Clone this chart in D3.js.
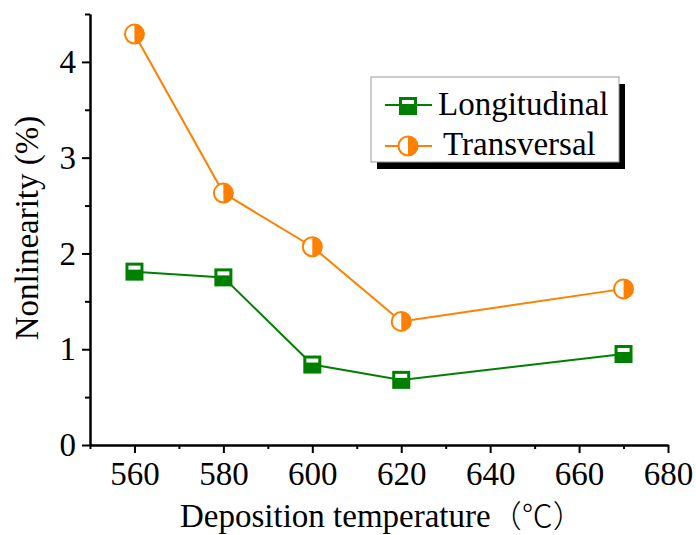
<!DOCTYPE html>
<html>
<head>
<meta charset="utf-8">
<script src="https://cdn.jsdelivr.net/npm/d3@7"></script>
<style>
  body { margin: 0; background: #fff; }
  svg { font-family: "Liberation Serif", "Times New Roman", serif; }
</style>
</head>
<body>
<svg width="696" height="535"></svg>
<script>
"use strict";
// data
var temps = [560, 580, 600, 620, 670];
var longitudinal = [1.81, 1.75, 0.84, 0.68, 0.95];
var transversal = [4.29, 2.63, 2.07, 1.29, 1.63];
var xMajor = [560, 580, 600, 620, 640, 660, 680];
var xMinor = [550, 570, 590, 610, 630, 650, 670];
var yMajor = [0, 1, 2, 3, 4];
var yMinor = [0.5, 1.5, 2.5, 3.5, 4.5];

var green = '#008000', orange = '#ff8000';
var serif = '"Liberation Serif", "Times New Roman", serif';

var svg = d3.select("svg");
var x = d3.scaleLinear().domain([550, 680]).range([90, 668]);
var y = d3.scaleLinear().domain([0, 4.5]).range([445, 14]);

function styleAxis(g) {
  g.attr('font-family', serif).attr('font-size', 33);
  g.selectAll('path, line').attr('stroke', '#000').attr('stroke-width', 2);
  g.selectAll('text').attr('fill', '#000');
}

// x axis
svg.append('g').attr('transform', 'translate(0,' + y(0) + ')')
  .call(d3.axisBottom(x).tickValues(xMinor).tickSize(4).tickSizeOuter(0).tickFormat(''))
  .call(styleAxis);
svg.append('g').attr('transform', 'translate(0,' + y(0) + ')')
  .call(d3.axisBottom(x).tickValues(xMajor).tickSize(8).tickSizeOuter(0).tickPadding(9).tickFormat(d3.format('d')))
  .call(styleAxis);

// y axis
svg.append('g').attr('transform', 'translate(' + x(550) + ',0)')
  .call(d3.axisLeft(y).tickValues(yMinor).tickSize(5).tickSizeOuter(0).tickFormat(''))
  .call(styleAxis);
svg.append('g').attr('transform', 'translate(' + x(550) + ',0)')
  .call(d3.axisLeft(y).tickValues(yMajor).tickSize(8).tickSizeOuter(0).tickPadding(6).tickFormat(d3.format('d')))
  .call(styleAxis);

// titles
svg.append('text')
  .attr('transform', 'translate(38,228) rotate(-90)')
  .attr('text-anchor', 'middle')
  .attr('font-size', 33)
  .text('Nonlinearity (%)');
var xt = svg.append('text')
  .attr('x', 180).attr('y', 527)
  .attr('font-size', 33);
xt.append('tspan').text('Deposition temperature');
xt.append('tspan').attr('font-family', '"Noto Sans CJK SC"').attr('font-weight', 300).attr('font-size', 31).text('（℃）');

var line = d3.line().x(function(d) { return x(d[0]); }).y(function(d) { return y(d[1]); });

function squareMarker(g, cx, cy) {
  var s = 16;
  g.append('rect').attr('x', cx - s/2).attr('y', cy - s/2).attr('width', s).attr('height', s)
    .attr('fill', green).attr('stroke', green).attr('stroke-width', 2);
  g.append('rect').attr('x', cx - s/2 + 2).attr('y', cy - s/2 + 2).attr('width', s - 4).attr('height', s/2 - 4)
    .attr('fill', '#fff');
}
function circleMarker(g, cx, cy) {
  var r = 9.5;
  g.append('circle').attr('cx', cx).attr('cy', cy).attr('r', r).attr('fill', '#fff');
  g.append('path')
    .attr('d', 'M' + cx + ',' + (cy - r) + 'A' + r + ',' + r + ' 0 0 1 ' + cx + ',' + (cy + r) + 'Z')
    .attr('fill', orange);
  g.append('circle').attr('cx', cx).attr('cy', cy).attr('r', r)
    .attr('fill', 'none').attr('stroke', orange).attr('stroke-width', 2);
}

var tPts = temps.map(function(t, i) { return [t, transversal[i]]; });
var lPts = temps.map(function(t, i) { return [t, longitudinal[i]]; });

svg.append('path').attr('d', line(tPts)).attr('fill', 'none').attr('stroke', orange).attr('stroke-width', 2);
svg.append('path').attr('d', line(lPts)).attr('fill', 'none').attr('stroke', green).attr('stroke-width', 2);
var mk = svg.append('g');
tPts.forEach(function(p) { circleMarker(mk, x(p[0]), y(p[1])); });
lPts.forEach(function(p) { squareMarker(mk, x(p[0]), y(p[1])); });

// legend
var lg = svg.append('g');
lg.append('rect').attr('x', 377).attr('y', 84).attr('width', 248).attr('height', 85).attr('fill', '#000');
lg.append('rect').attr('x', 371).attr('y', 77).attr('width', 248).attr('height', 85)
  .attr('fill', '#fff').attr('stroke', '#999').attr('stroke-width', 1);
lg.append('line').attr('x1', 385).attr('x2', 432).attr('y1', 105).attr('y2', 105).attr('stroke', green).attr('stroke-width', 2);
squareMarker(lg, 408, 106);
lg.append('text').attr('x', 438).attr('y', 115).attr('font-size', 33).text('Longitudinal');
lg.append('line').attr('x1', 385).attr('x2', 432).attr('y1', 146).attr('y2', 146).attr('stroke', orange).attr('stroke-width', 2);
circleMarker(lg, 408, 146);
lg.append('text').attr('x', 443).attr('y', 155).attr('font-size', 33).text('Transversal');
</script>
</body>
</html>
